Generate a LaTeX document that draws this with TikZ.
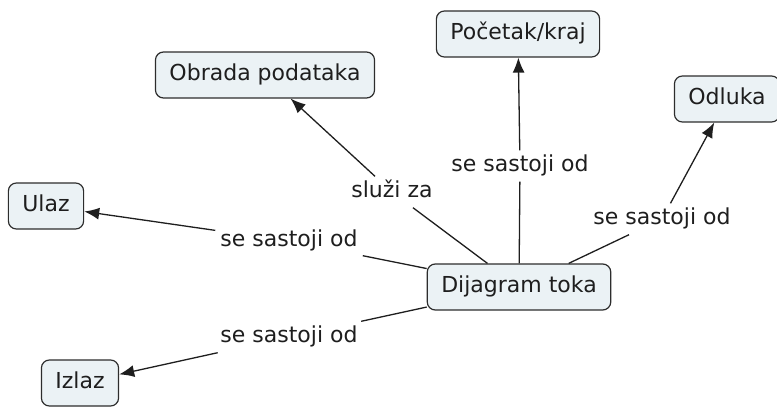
\documentclass[tikz,border=0pt]{standalone}
\usepackage{fontspec}
\setmainfont{DejaVu Sans}
\usetikzlibrary{arrows.meta}
\definecolor{boxfill}{RGB}{235,242,245}
\definecolor{boxline}{RGB}{45,45,45}
\definecolor{ink}{RGB}{30,30,30}
\tikzset{
  concept/.style={draw=boxline, fill=boxfill, line width=1.2pt, rounded corners=8pt,
    font=\fontsize{22}{25}\selectfont, text=ink, inner xsep=14pt, minimum height=46pt,
    text height=16pt, text depth=5pt},
  linkname/.style={font=\fontsize{22}{25}\selectfont, text=ink, inner sep=5pt,
    text height=16pt, text depth=5pt},
  link/.style={draw=ink, line width=1.3pt},
  linkarrow/.style={link, -{Latex[length=15pt,width=12pt]}},
}
\begin{document}
\begin{tikzpicture}[x=1pt, y=-1pt]
  \useasboundingbox (0,0) rectangle (777,407);

  % concepts
  \node[concept] (dij)  at (519,287) {Dijagram toka};
  \node[concept] (obr)  at (265,75)  {Obrada podataka};
  \node[concept] (poc)  at (518,34)  {Početak/kraj};
  \node[concept] (odl)  at (727,99)  {Odluka};
  \node[concept] (ulaz) at (46,206)  {Ulaz};
  \node[concept] (izl)  at (80,383)  {Izlaz};

  % linking phrases
  \node[linkname] (l1) at (392,192) {služi za};
  \node[linkname] (l2) at (520,166) {se sastoji od};
  \node[linkname] (l3) at (662,219) {se sastoji od};
  \node[linkname] (l4) at (289,241) {se sastoji od};
  \node[linkname] (l5) at (289,337) {se sastoji od};

  % connections
  \draw[link] (dij) -- (l1);  \draw[linkarrow] (l1) -- (obr);
  \draw[link] (dij) -- (l2);  \draw[linkarrow] (l2) -- (poc);
  \draw[link] (dij) -- (l3);  \draw[linkarrow] (l3) -- (odl);
  \draw[link] (dij) -- (l4);  \draw[linkarrow] (l4) -- (ulaz);
  \draw[link] (dij) -- (l5);  \draw[linkarrow] (l5) -- (izl);
\end{tikzpicture}
\end{document}
